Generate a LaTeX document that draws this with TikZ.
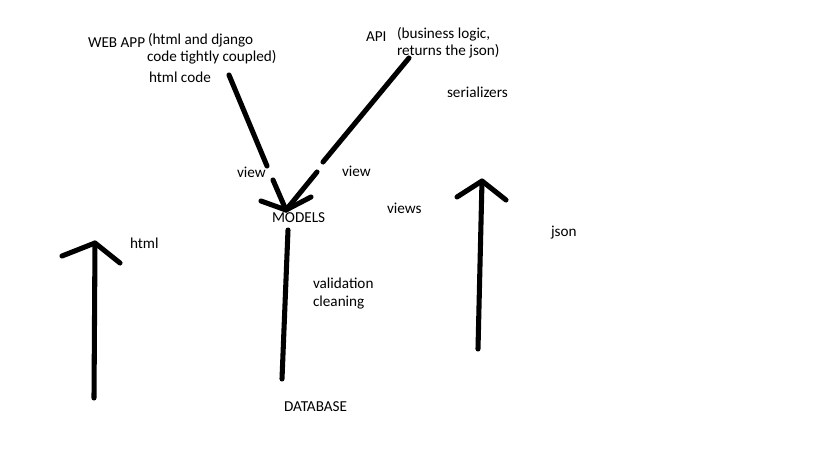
\documentclass[tikz,border=0pt]{standalone}
\usepackage{fontspec}
\setmainfont{Carlito}
\begin{document}
\begin{tikzpicture}[x=0.75pt,y=-0.75pt,
  lbl/.style={anchor=base west,inner sep=0pt,outer sep=0pt,font=\fontsize{11.4pt}{13.5pt}\selectfont,text=black},
  pen/.style={line width=3.8pt,line cap=round,line join=round,black}]
\useasboundingbox[fill=white] (0,0) rectangle (819,460);
% texts
\node[lbl] (webapp) at (88,48) {WEB APP};
\node[lbl] (hd1) at (148,45) {(html and django};
\node[lbl] (hd2) at (147,62) {code tightly coupled)};
\node[lbl] (htmlcode) at (149,83) {html code};
\node[lbl] (api) at (366,42) {API};
\node[lbl] (bl1) at (397,39) {(business logic,};
\node[lbl] (bl2) at (397,56) {returns the json)};
\node[lbl] (ser) at (447,98) {serializers};
\node[lbl] (viewl) at (237,178) {view};
\node[lbl] (viewr) at (342,176) {view};
\node[lbl] (models) at (272,223) {MODELS};
\node[lbl] (views) at (387,214) {views};
\node[lbl] (html) at (130,248) {html};
\node[lbl] (json) at (551,237) {json};
\node[lbl] (val) at (313,288) {validation};
\node[lbl] (clean) at (313,306) {cleaning};
\node[lbl] (db) at (284,411) {DATABASE};
% coordinates
\coordinate (tip) at (286,210);
\coordinate (wa1) at (229,75);
\coordinate (wa2) at (267,166);
\coordinate (wa3) at (273,180);
\coordinate (ap1) at (409,58);
\coordinate (ap2) at (323,162);
\coordinate (ap3) at (317,172);
\coordinate (bl) at (261,201);
\coordinate (br) at (311,197);
\coordinate (m1) at (288,230);
\coordinate (m2) at (282,379);
\coordinate (lt) at (95,243);
\coordinate (lb) at (94,398);
\coordinate (lbl1) at (62,256);
\coordinate (lbr) at (120,263);
\coordinate (rt) at (482,181);
\coordinate (rb) at (478,349);
\coordinate (rbl) at (457,197);
\coordinate (rbr) at (506,200);
% connectors
\draw[pen] (wa1) -- (wa2);
\draw[pen] (wa3) -- (tip);
\draw[pen] (ap1) -- (ap2);
\draw[pen] (ap3) -- (tip);
\draw[pen] (bl) -- (tip) -- (br);
\draw[pen] (m1) -- (m2);
\draw[pen] (lb) -- (lt);
\draw[pen] (lbl1) -- (lt) -- (lbr);
\draw[pen] (rb) -- (rt);
\draw[pen] (rbl) -- (rt) -- (rbr);
\end{tikzpicture}
\end{document}
